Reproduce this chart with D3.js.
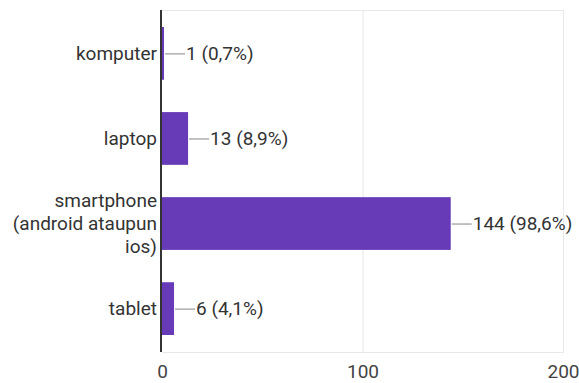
<!DOCTYPE html>
<html>
<head>
<meta charset="utf-8">
<style>
body { margin: 0; background: #fff; }
text { font-family: Roboto, sans-serif; }
.grid line { stroke: #e8e8e8; stroke-width: 1; }
</style>
</head>
<body>
<svg width="579" height="383"></svg>
<script src="https://d3js.org/d3.v7.min.js"></script>
<script>
// data
var categories = ["komputer", "laptop", "smartphone (android ataupun ios)", "tablet"];
var counts = [1, 13, 144, 6];
var percents = ["0,7", "8,9", "98,6", "4,1"];
var xTicks = [0, 100, 200];

var svg = d3.select("svg");

var x = d3.scaleLinear()
    .domain([0, 200])
    .range([162, 563]);

var y = d3.scaleBand()
    .domain(categories)
    .range([10, 352])
    .paddingInner(0.38)
    .paddingOuter(0.2);

var rows = categories.map(function(c, i) {
  return { name: c, count: counts[i], pct: percents[i] };
});

// gridlines
var grid = svg.append("g").attr("class", "grid");
grid.selectAll(".v")
    .data(xTicks.slice(1))
    .enter().append("line")
    .attr("x1", function(d) { return x(d) + 0.5; })
    .attr("x2", function(d) { return x(d) + 0.5; })
    .attr("y1", y.range()[0])
    .attr("y2", y.range()[1]);
grid.selectAll(".h")
    .data(y.range())
    .enter().append("line")
    .attr("x1", x(0))
    .attr("x2", x(200) + 1)
    .attr("y1", function(d) { return d + 0.5; })
    .attr("y2", function(d) { return d + 0.5; });

// x tick labels
svg.append("g")
    .attr("transform", "translate(0," + 380 + ")")
    .call(d3.axisBottom(x).tickValues(xTicks).tickSize(0).tickPadding(0))
    .call(function(g) { g.select(".domain").remove(); })
    .selectAll("text")
    .attr("y", -8)
    .attr("dy", "0.32em")
    .attr("fill", "#444")
    .style("font-size", "19px")
    .style("font-family", "Roboto, sans-serif");

// bars
svg.append("g").selectAll("rect")
    .data(rows)
    .enter().append("rect")
    .attr("x", x(0))
    .attr("y", function(d) { return y(d.name); })
    .attr("width", function(d) { return x(d.count) - x(0); })
    .attr("height", y.bandwidth())
    .attr("fill", "#673ab7");

// connector lines and value labels
var vals = svg.append("g").selectAll("g")
    .data(rows)
    .enter().append("g")
    .attr("transform", function(d) {
      return "translate(" + x(d.count) + "," + (y(d.name) + y.bandwidth() / 2) + ")";
    });
vals.append("line")
    .attr("x1", 1).attr("x2", 21)
    .attr("y1", 0.5).attr("y2", 0.5)
    .attr("stroke", "#999")
    .attr("stroke-width", 1.2);
vals.append("text")
    .attr("x", 22)
    .attr("dy", "0.35em")
    .attr("fill", "#333")
    .style("font-size", "19px")
    .text(function(d) { return d.count + " (" + d.pct + "%)"; });

// category labels, wrapped
svg.append("g").selectAll("text")
    .data(rows)
    .enter().append("text")
    .attr("text-anchor", "end")
    .attr("fill", "#333")
    .style("font-size", "19px")
    .each(function(d) {
      var t = d3.select(this);
      var words = d.name.split(" "), lines = [], cur = [];
      words.forEach(function(w) {
        cur.push(w);
        t.text(cur.join(" "));
        if (t.node().getComputedTextLength() > 155 && cur.length > 1) {
          cur.pop();
          lines.push(cur.join(" "));
          cur = [w];
        }
      });
      lines.push(cur.join(" "));
      t.text(null);
      var cy = y(d.name) + y.bandwidth() / 2;
      var lh = 23;
      lines.forEach(function(l, i) {
        t.append("tspan")
          .attr("x", 157)
          .attr("y", cy + (i - (lines.length - 1) / 2) * lh)
          .attr("dy", "0.35em")
          .text(l);
      });
    });

// zero axis line
svg.append("line")
    .attr("x1", x(0) - 1).attr("x2", x(0) - 1)
    .attr("y1", y.range()[0]).attr("y2", y.range()[1])
    .attr("stroke", "#333")
    .attr("stroke-width", 2);
</script>
</body>
</html>
